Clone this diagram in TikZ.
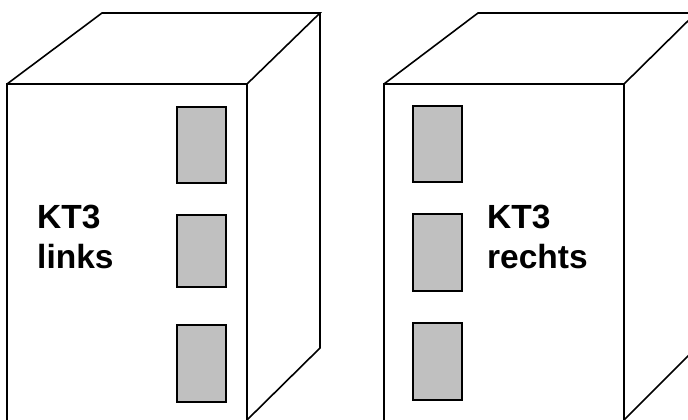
\documentclass[tikz,border=0pt]{standalone}
\usepackage{fontspec}
\setmainfont{Liberation Sans}
\definecolor{slotgray}{RGB}{192,192,192}
\tikzset{
  edge/.style={draw=black, line width=1.6pt, line join=miter},
  slot/.style={draw=black, line width=1.5pt, fill=slotgray},
  label/.style={font=\fontsize{33.5}{40}\selectfont\bfseries, inner sep=0pt, anchor=base west}
}
\begin{document}
\begin{tikzpicture}[x=1pt, y=-1pt]
\useasboundingbox (0,0) rectangle (688,420);
\clip (0,0) rectangle (688,420);
% left cabinet
\draw[edge] (7,421) -- (7,84) -- (247,84) -- (247,421);
\draw[edge] (7,84) -- (102,13) -- (320,13) -- (247,84);
\draw[edge] (320,13) -- (320,348) -- (247,420);
\draw[slot] (177,107) rectangle (226,183);
\draw[slot] (177,215) rectangle (226,287);
\draw[slot] (177,325) rectangle (226,402);
\node[label] (l1) at (37,228) {KT3};
\node[label] (l2) at (37,268) {links};
% right cabinet
\draw[edge] (384,421) -- (384,84) -- (624,84) -- (624,421);
\draw[edge] (384,84) -- (478,13) -- (696,13) -- (624,84);
\draw[edge] (696,13) -- (696,348) -- (624,420);
\draw[slot] (413,106) rectangle (462,182);
\draw[slot] (413,214) rectangle (462,291);
\draw[slot] (413,323) rectangle (462,400);
\node[label] (r1) at (487,228) {KT3};
\node[label] (r2) at (487,268) {rechts};
\end{tikzpicture}
\end{document}
